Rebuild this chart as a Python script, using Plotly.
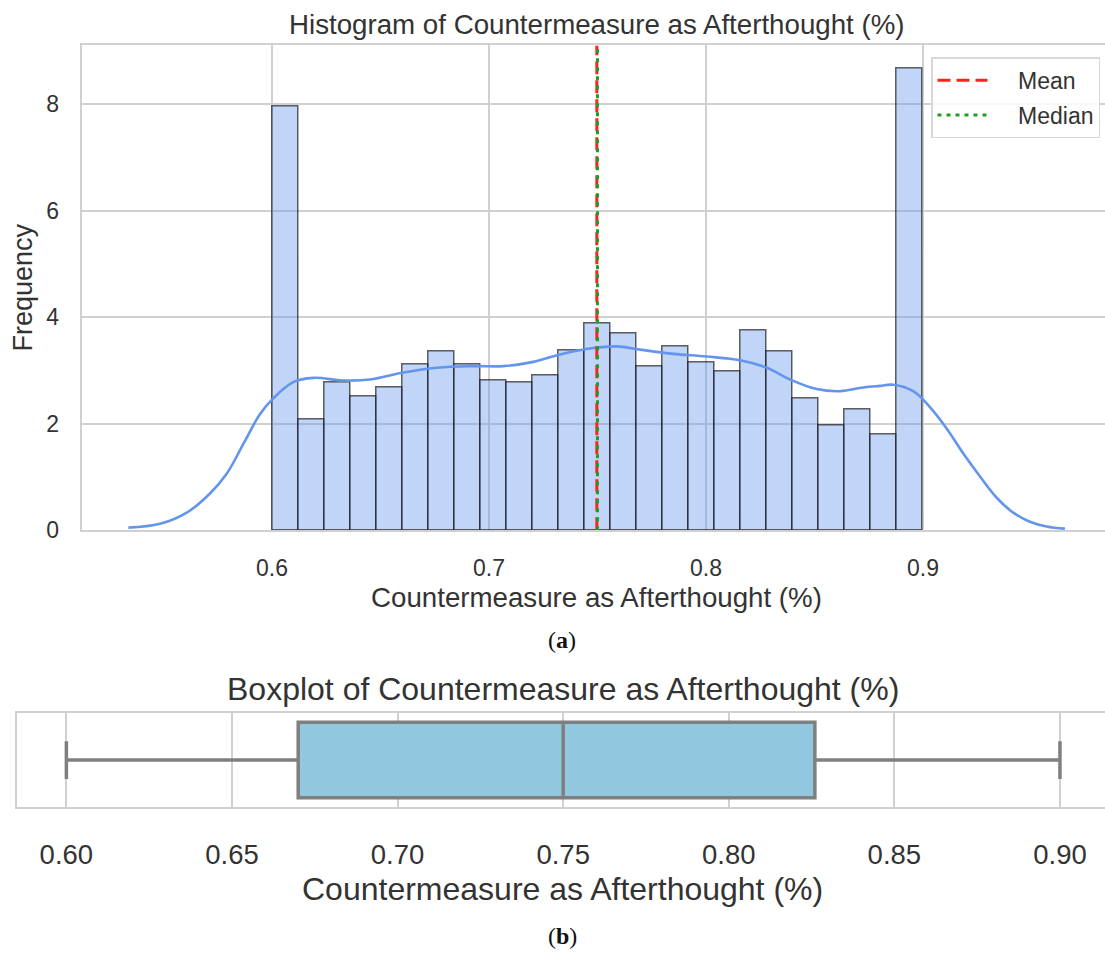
import plotly.graph_objects as go

W, H = 1105, 963

# Histogram: 25 bins of width 0.012 between 0.60 and 0.90 (density scale)
bin_edges_start = 0.60
bin_width = 0.012
bar_heights = [7.95, 2.09, 2.77, 2.51, 2.68, 3.11, 3.36, 3.11, 2.81, 2.77,
               2.91, 3.37, 3.88, 3.70, 3.07, 3.46, 3.15, 2.98, 3.75, 3.36,
               2.48, 1.96, 2.26, 1.79, 8.67]
bin_centers = [round(bin_edges_start + bin_width * (i + 0.5), 4) for i in range(len(bar_heights))]

# Kernel density estimate curve
kde_x = [0.5338, 0.5484, 0.5607, 0.5714, 0.5791, 0.5868, 0.5945, 0.6000, 0.6098,
         0.6190, 0.6329, 0.6452, 0.6605, 0.6759, 0.6928, 0.7066, 0.7204, 0.7327,
         0.7481, 0.7588, 0.7696, 0.7849, 0.8003, 0.8157, 0.8280, 0.8387, 0.8510,
         0.8618, 0.8725, 0.8802, 0.8863, 0.8955, 0.9032, 0.9109, 0.9186, 0.9263,
         0.9340, 0.9416, 0.9493, 0.9570, 0.9654]
kde_y = [0.05, 0.12, 0.33, 0.69, 1.06, 1.62, 2.18, 2.45, 2.78,
         2.86, 2.81, 2.83, 2.96, 3.05, 3.08, 3.08, 3.16, 3.30,
         3.42, 3.45, 3.39, 3.31, 3.26, 3.19, 3.05, 2.83, 2.65,
         2.61, 2.68, 2.71, 2.73, 2.61, 2.31, 1.91, 1.44, 1.01,
         0.61, 0.33, 0.16, 0.07, 0.03]

mean_value = 0.7497
median_value = 0.750

# Boxplot summary statistics
box_min = 0.60
box_q1 = 0.670
box_median = 0.750
box_q3 = 0.826
box_max = 0.90

hist_xticks = [0.6, 0.7, 0.8, 0.9]
hist_yticks = [0, 2, 4, 6, 8]
box_xticks = [0.60, 0.65, 0.70, 0.75, 0.80, 0.85, 0.90]

FONT = "Liberation Sans, Arial, sans-serif"
TEXT = "#333333"
GRID = "#d0d0d0"
NBSP = "\u00a0"


def px(x):
    return x / W


def py(y):
    return 1 - y / H


fig = go.Figure()

fig.add_trace(go.Bar(
    x=bin_centers, y=bar_heights, width=bin_width,
    marker=dict(color="rgba(100,149,237,0.4)",
                line=dict(color="rgba(30,30,30,0.7)", width=1.5)),
    showlegend=False, xaxis="x", yaxis="y",
))

fig.add_trace(go.Scatter(
    x=kde_x, y=kde_y, mode="lines",
    line=dict(color="#6495ED", width=2.6, shape="spline", smoothing=1.1),
    showlegend=False, xaxis="x", yaxis="y",
))

y_top = 9.10
fig.add_trace(go.Scatter(
    x=[mean_value, mean_value], y=[0, y_top], mode="lines", name=NBSP * 4 + "Mean",
    line=dict(color="#ff2020", width=3, dash="13px,6px"),
    xaxis="x", yaxis="y", legendgroup="a",
))
fig.add_trace(go.Scatter(
    x=[median_value, median_value], y=[0, y_top], mode="lines", name=NBSP * 4 + "Median",
    line=dict(color="#1f9e1f", width=3, dash="4px,5px"),
    xaxis="x", yaxis="y", legendgroup="b",
))

fig.add_trace(go.Box(
    y=[0], q1=[box_q1], median=[box_median], q3=[box_q3],
    lowerfence=[box_min], upperfence=[box_max], orientation="h",
    fillcolor="#92C8DF", line=dict(color="#7f7f7f", width=3.5),
    width=0.8, whiskerwidth=0.5, boxpoints=False,
    showlegend=False, xaxis="x2", yaxis="y2",
))

axis_common = dict(showgrid=True, gridcolor=GRID, gridwidth=1.6, zeroline=False,
                   showline=True, linecolor=GRID, linewidth=1.6)

fig.update_layout(
    width=W, height=H,
    margin=dict(l=0, r=0, t=0, b=0),
    paper_bgcolor="white", plot_bgcolor="white",
    font=dict(family=FONT, color=TEXT),
    bargap=0,
    xaxis=dict(domain=[px(81.5), 1.0], range=[0.5122, 0.9839],
               tickvals=hist_xticks, ticktext=[f"{v:.1f}" for v in hist_xticks],
               mirror=True, ticks="", ticklabelstandoff=16,
               tickfont=dict(family=FONT, color=TEXT, size=23),
               anchor="y", **axis_common),
    yaxis=dict(domain=[py(537.5), py(46)], range=[0, y_top],
               tickvals=hist_yticks, ticks="", ticklabelstandoff=16,
               tickfont=dict(family=FONT, color=TEXT, size=23),
               anchor="x", **axis_common),
    xaxis2=dict(domain=[px(16.7), 1.0], range=[0.585, 0.9136],
                tickvals=box_xticks, ticktext=[f"{v:.2f}" for v in box_xticks],
                mirror=True, ticks="", ticklabelstandoff=22,
                tickfont=dict(family=FONT, color=TEXT, size=27.5),
                anchor="y2", **axis_common),
    yaxis2=dict(domain=[py(818.3), py(722.7)], range=[0.5, -0.5],
                showticklabels=False, showgrid=False, zeroline=False,
                showline=True, linecolor=GRID, linewidth=1.6, anchor="x2"),
    legend=dict(x=px(1100), y=py(58), xanchor="right", yanchor="top",
                bgcolor="rgba(255,255,255,0.85)", bordercolor="#d8d8d8", borderwidth=1.5,
                font=dict(family=FONT, size=23, color=TEXT),
                traceorder="grouped", tracegroupgap=2, itemwidth=50),
)

annotations = [
    dict(text="Histogram of Countermeasure as Afterthought (%)", x=px(596.7), y=py(24.5), size=27.7),
    dict(text="Countermeasure as Afterthought (%)", x=px(596.7), y=py(606), size=27.7),
    dict(text="Frequency", x=px(22.7), y=py(291.8), size=27, angle=-90),
    dict(text="Boxplot of Countermeasure as Afterthought (%)", x=px(562.5), y=py(698), size=32),
    dict(text="Countermeasure as Afterthought (%)", x=px(562.5), y=py(901), size=32),
]
for a in annotations:
    fig.add_annotation(text=a["text"], x=a["x"], y=a["y"], xref="paper", yref="paper",
                       xanchor="center", yanchor="middle", showarrow=False,
                       textangle=a.get("angle", 0),
                       font=dict(family=FONT, size=a["size"], color=TEXT))

for label, ycap in (("a", 649), ("b", 949)):
    fig.add_annotation(text=f"(<b>{label}</b>)", x=px(562), y=py(ycap), xref="paper", yref="paper",
                       xanchor="center", yanchor="middle", showarrow=False,
                       font=dict(family="Liberation Serif, Times New Roman, serif", size=24, color="#111111"))

fig.write_html("out.html")
